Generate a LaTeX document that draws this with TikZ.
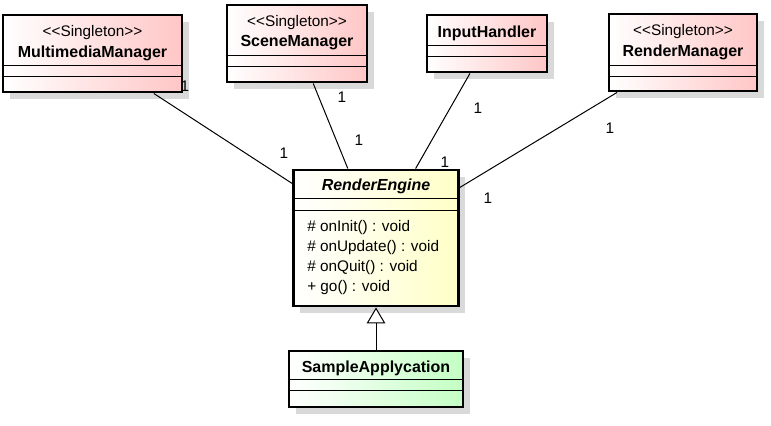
\documentclass[tikz,border=0pt]{standalone}
\usepackage{fontspec}
\setmainfont{Liberation Sans}
\usetikzlibrary{arrows.meta, calc, shadows}
\definecolor{singpink}{RGB}{255,198,198}
\definecolor{engyellow}{RGB}{255,255,200}
\definecolor{appgreen}{RGB}{196,255,196}

\begin{document}
\begin{tikzpicture}[
    x=0.75pt, y=-0.75pt,
    cls/.style={draw, line width=2.2pt, inner sep=0pt,
                general shadow={fill=black!15, shadow xshift=5pt, shadow yshift=-5pt}},
    single/.style={cls, left color=white, right color=singpink},
    txt/.style={font=\fontsize{11.5}{13}\selectfont, inner sep=0pt},
    clsname/.style={txt, font=\fontsize{12}{14}\selectfont\bfseries},
    mult/.style={txt},
    sep/.style={line width=0.75pt},
    >=Stealth
  ]
  \useasboundingbox (0,0) rectangle (771,425);

  % singleton classes and the input handler
  \node[single, minimum width=134.25pt, minimum height=57.75pt] (mm) at (92.5,53.5) {};
  \node[single, minimum width=105pt, minimum height=57.75pt] (sm) at (297,43.5) {};
  \node[single, minimum width=90pt, minimum height=42.75pt] (ih) at (487,43.5) {};
  \node[single, minimum width=111pt, minimum height=57.75pt] (rm) at (683,52.5) {};

  % engine and application
  \node[cls, left color=white, right color=engyellow,
        minimum width=123.75pt, minimum height=102pt] (re) at (376,238) {};
  \node[cls, left color=white, right color=appgreen,
        minimum width=130.5pt, minimum height=42pt] (sa) at (376,379) {};

  % compartments
  \draw[sep] ($(mm.north west)+(0,52)$) -- ($(mm.north east)+(0,52)$);
  \draw[sep] ($(mm.north west)+(0,63)$) -- ($(mm.north east)+(0,63)$);
  \draw[sep] ($(sm.north west)+(0,52)$) -- ($(sm.north east)+(0,52)$);
  \draw[sep] ($(sm.north west)+(0,63)$) -- ($(sm.north east)+(0,63)$);
  \draw[sep] ($(ih.north west)+(0,32)$) -- ($(ih.north east)+(0,32)$);
  \draw[sep] ($(ih.north west)+(0,43)$) -- ($(ih.north east)+(0,43)$);
  \draw[sep] ($(rm.north west)+(0,53)$) -- ($(rm.north east)+(0,53)$);
  \draw[sep] ($(rm.north west)+(0,64)$) -- ($(rm.north east)+(0,64)$);
  \draw[sep] ($(re.north west)+(0,30)$) -- ($(re.north east)+(0,30)$);
  \draw[sep] ($(re.north west)+(0,42)$) -- ($(re.north east)+(0,42)$);
  \draw[sep] ($(sa.north west)+(0,30)$) -- ($(sa.north east)+(0,30)$);
  \draw[sep] ($(sa.north west)+(0,41)$) -- ($(sa.north east)+(0,41)$);

  % titles
  \node[txt] (mmst) at (92.5,33) {<{}<Singleton>{}>};
  \node[clsname] (mmname) at (92.5,53) {MultimediaManager};
  \node[txt] (smst) at (297,23) {<{}<Singleton>{}>};
  \node[clsname] (smname) at (297,43) {SceneManager};
  \node[clsname] (ihname) at (487,33) {InputHandler};
  \node[txt] (rmst) at (683,32) {<{}<Singleton>{}>};
  \node[clsname] (rmname) at (683,52) {RenderManager};
  \node[clsname, font=\fontsize{12}{14}\selectfont\bfseries\itshape] (rename) at (376,186) {RenderEngine};
  \node[clsname] (saname) at (376,368) {SampleApplycation};

  % operations
  \node[txt, anchor=west] (op1) at (307,228) {\# onInit() : void};
  \node[txt, anchor=west] (op2) at (307,248) {\# onUpdate() : void};
  \node[txt, anchor=west] (op3) at (307,268) {\# onQuit() : void};
  \node[txt, anchor=west] (op4) at (307,288) {+ go() : void};

  % associations
  \draw[line width=0.75pt] (mm) -- (re);
  \draw[line width=0.75pt] (sm) -- (re);
  \draw[line width=0.75pt] (ih) -- (re);
  \draw[line width=0.75pt] (rm) -- (re);

  \node[mult] (mmsrc) at (185,86) {1};
  \node[mult] (mmdst) at (284,153) {1};
  \node[mult] (smsrc) at (342,97) {1};
  \node[mult] (smdst) at (359,140) {1};
  \node[mult] (ihsrc) at (478,108) {1};
  \node[mult] (ihdst) at (445,162) {1};
  \node[mult] (rmsrc) at (610,128) {1};
  \node[mult] (rmdst) at (488,198) {1};

  % generalization
  \draw[line width=0.75pt, -{Triangle[length=12pt, width=14pt, fill=white]}]
    (sa.north) -- (re.south);
\end{tikzpicture}
\end{document}
